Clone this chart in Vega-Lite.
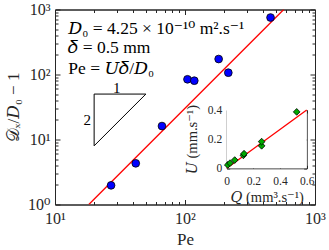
{
  "$schema": "https://vega.github.io/schema/vega-lite/v6.json",
  "width": 260,
  "height": 195,
  "autosize": {"type": "none"},
  "padding": {"left": 55, "top": 9.5, "right": 14, "bottom": 45.5},
  "background": "white",
  "view": {"stroke": "#262626", "strokeWidth": 1},
  "config": {
    "axis": {
      "grid": false,
      "domainColor": "#262626",
      "tickColor": "#262626",
      "labelColor": "#262626",
      "titleColor": "#262626",
      "labelFont": "'Liberation Serif', 'DejaVu Serif', serif",
      "titleFont": "'Liberation Serif', 'DejaVu Serif', serif",
      "labelFontWeight": "normal",
      "titleFontWeight": "normal",
      "labelOverlap": false,
      "labelBound": false,
      "labelFlush": false,
      "zindex": 1
    },
    "text": {"font": "'Liberation Serif', 'DejaVu Serif', serif", "color": "#000000"}
  },
  "resolve": {
    "scale": {"x": "independent", "y": "independent"},
    "axis": {"x": "independent", "y": "independent"}
  },
  "layer": [
    {
      "data": {"values": [{"Pe": 18.2, "Dx": 1}, {"Pe": 575, "Dx": 1000}]},
      "mark": {"type": "line", "color": "#ff0000", "strokeWidth": 1.3, "clip": true},
      "encoding": {
        "x": {
          "field": "Pe", "type": "quantitative",
          "scale": {"type": "log", "domain": [10, 1000], "nice": false},
          "axis": {
            "orient": "bottom",
            "values": [10,20,30,40,50,60,70,80,90,100,200,300,400,500,600,700,800,900,1000],
            "labelExpr": "datum.value == 10 ? '10¹' : datum.value == 100 ? '10²' : datum.value == 1000 ? '10³' : ''",
            "tickSize": {"condition": {"test": "datum.value == 10 || datum.value == 100 || datum.value == 1000", "value": -5}, "value": -3},
            "labelPadding": 11,
            "labelFontSize": 16,
            "title": "Pe",
            "titleFontSize": 17,
            "titlePadding": 3
          }
        },
        "y": {
          "field": "Dx", "type": "quantitative",
          "scale": {"type": "log", "domain": [1, 1000], "nice": false},
          "axis": {
            "orient": "left",
            "values": [1,2,3,4,5,6,7,8,9,10,20,30,40,50,60,70,80,90,100,200,300,400,500,600,700,800,900,1000],
            "labelExpr": "datum.value == 1 ? '10⁰' : datum.value == 10 ? '10¹' : datum.value == 100 ? '10²' : datum.value == 1000 ? '10³' : ''",
            "tickSize": {"condition": {"test": "datum.value == 1 || datum.value == 10 || datum.value == 100 || datum.value == 1000", "value": -5}, "value": -3},
            "labelPadding": 10,
            "labelFontSize": 16,
            "title": "𝒟ₓ/𝐷₀ − 1",
            "titleFontSize": 17,
            "titlePadding": 5
          }
        }
      }
    },
    {
      "data": {"values": [
        {"Pe": 27.0, "Dx": 1.97},
        {"Pe": 41.8, "Dx": 4.3},
        {"Pe": 66.5, "Dx": 16.1},
        {"Pe": 104.5, "Dx": 84.4},
        {"Pe": 117.9, "Dx": 80.3},
        {"Pe": 181.5, "Dx": 173},
        {"Pe": 215.4, "Dx": 106.6},
        {"Pe": 455, "Dx": 753}
      ]},
      "mark": {"type": "point", "shape": "circle", "filled": true, "size": 60, "fill": "#0000ff", "stroke": "#000000", "strokeWidth": 0.8, "opacity": 1},
      "encoding": {
        "x": {
          "field": "Pe", "type": "quantitative",
          "scale": {"type": "log", "domain": [10, 1000], "nice": false},
          "axis": {
            "orient": "top",
            "values": [10,20,30,40,50,60,70,80,90,100,200,300,400,500,600,700,800,900,1000],
            "labels": false,
            "tickSize": {"condition": {"test": "datum.value == 10 || datum.value == 100 || datum.value == 1000", "value": -5}, "value": -3},
            "title": null
          }
        },
        "y": {
          "field": "Dx", "type": "quantitative",
          "scale": {"type": "log", "domain": [1, 1000], "nice": false},
          "axis": {
            "orient": "right",
            "values": [1,2,3,4,5,6,7,8,9,10,20,30,40,50,60,70,80,90,100,200,300,400,500,600,700,800,900,1000],
            "labels": false,
            "tickSize": {"condition": {"test": "datum.value == 1 || datum.value == 10 || datum.value == 100 || datum.value == 1000", "value": -5}, "value": -3},
            "title": null
          }
        }
      }
    },
    {
      "data": {"values": [
        {"Pe": 20, "Dx": 50, "o": 1},
        {"Pe": 50, "Dx": 50, "o": 2},
        {"Pe": 20, "Dx": 8, "o": 3},
        {"Pe": 20, "Dx": 50, "o": 4}
      ]},
      "mark": {"type": "line", "color": "#000000", "strokeWidth": 1},
      "encoding": {
        "x": {"field": "Pe", "type": "quantitative", "scale": {"type": "log", "domain": [10, 1000], "nice": false}, "axis": null},
        "y": {"field": "Dx", "type": "quantitative", "scale": {"type": "log", "domain": [1, 1000], "nice": false}, "axis": null},
        "order": {"field": "o", "type": "quantitative"}
      }
    },
    {
      "data": {"values": [
        {"Pe": 12.66, "Dx": 420, "label": "𝐷₀ = 4.25 × 10⁻¹⁰ m².s⁻¹"},
        {"Pe": 12.66, "Dx": 214, "label": "𝛿 = 0.5 mm"},
        {"Pe": 12.66, "Dx": 103.6, "label": "Pe = 𝑈𝛿/𝐷₀"}
      ]},
      "mark": {"type": "text", "align": "left", "baseline": "alphabetic", "fontSize": 17.5},
      "encoding": {
        "x": {"field": "Pe", "type": "quantitative", "scale": {"type": "log", "domain": [10, 1000], "nice": false}, "axis": null},
        "y": {"field": "Dx", "type": "quantitative", "scale": {"type": "log", "domain": [1, 1000], "nice": false}, "axis": null},
        "text": {"field": "label"}
      }
    },
    {
      "data": {"values": [
        {"Pe": 29.8, "Dx": 61.4, "label": "1"},
        {"Pe": 17.7, "Dx": 20, "label": "2"}
      ]},
      "mark": {"type": "text", "align": "center", "baseline": "middle", "fontSize": 15},
      "encoding": {
        "x": {"field": "Pe", "type": "quantitative", "scale": {"type": "log", "domain": [10, 1000], "nice": false}, "axis": null},
        "y": {"field": "Dx", "type": "quantitative", "scale": {"type": "log", "domain": [1, 1000], "nice": false}, "axis": null},
        "text": {"field": "label"}
      }
    },
    {
      "data": {"values": [{"Q0": 0, "Q1": 0.6, "U0": 0, "U1": 0.4}]},
      "mark": {"type": "rect", "fill": "#ffffff", "stroke": null},
      "encoding": {
        "x": {
          "field": "Q0", "type": "quantitative",
          "scale": {"domain": [0, 0.6], "range": [171.7, 251.7], "nice": false, "zero": false},
          "axis": {
            "orient": "bottom", "offset": -36.2,
            "values": [0, 0.2, 0.4, 0.6],
            "format": "~g",
            "tickSize": -3,
            "labelPadding": 10,
            "labelFontSize": 11.5,
            "title": "𝑄 (mm³.s⁻¹)",
            "titleFontSize": 14.5,
            "titlePadding": 4
          }
        },
        "x2": {"field": "Q1"},
        "y": {
          "field": "U0", "type": "quantitative",
          "scale": {"domain": [0, 0.4], "range": [158.8, 100.5], "nice": false, "zero": false},
          "axis": {
            "orient": "left", "offset": -171.7,
            "values": [0, 0.2, 0.4],
            "format": "~g",
            "tickSize": -3,
            "labelPadding": 8,
            "labelFontSize": 11.5,
            "title": "𝑈 (mm.s⁻¹)",
            "titleFontSize": 14.5,
            "titlePadding": 8
          }
        },
        "y2": {"field": "U1"}
      }
    },
    {
      "data": {"values": [{"Q": 0, "U": 0}, {"Q": 0.6, "U": 0.4}]},
      "mark": {"type": "line", "color": "#ff0000", "strokeWidth": 1.3},
      "encoding": {
        "x": {
          "field": "Q", "type": "quantitative",
          "scale": {"domain": [0, 0.6], "range": [171.7, 251.7], "nice": false, "zero": false},
          "axis": {"orient": "top", "offset": -100.5, "values": [0, 0.2, 0.4, 0.6], "labels": false, "tickSize": -3, "title": null}
        },
        "y": {
          "field": "U", "type": "quantitative",
          "scale": {"domain": [0, 0.4], "range": [158.8, 100.5], "nice": false, "zero": false},
          "axis": {"orient": "right", "offset": -8.3, "values": [0, 0.2, 0.4], "labels": false, "tickSize": -3, "title": null}
        }
      }
    },
    {
      "data": {"values": [
        {"Q": 0.008, "U": 0.0231},
        {"Q": 0.025, "U": 0.0355},
        {"Q": 0.06, "U": 0.0565},
        {"Q": 0.125, "U": 0.0888},
        {"Q": 0.13, "U": 0.1002},
        {"Q": 0.262, "U": 0.1543},
        {"Q": 0.262, "U": 0.183},
        {"Q": 0.525, "U": 0.387}
      ]},
      "mark": {"type": "point", "shape": "diamond", "filled": true, "size": 45, "fill": "#00a800", "stroke": "#000000", "strokeWidth": 0.8, "opacity": 1},
      "encoding": {
        "x": {"field": "Q", "type": "quantitative", "scale": {"domain": [0, 0.6], "range": [171.7, 251.7], "nice": false, "zero": false}, "axis": null},
        "y": {"field": "U", "type": "quantitative", "scale": {"domain": [0, 0.4], "range": [158.8, 100.5], "nice": false, "zero": false}, "axis": null}
      }
    }
  ]
}
